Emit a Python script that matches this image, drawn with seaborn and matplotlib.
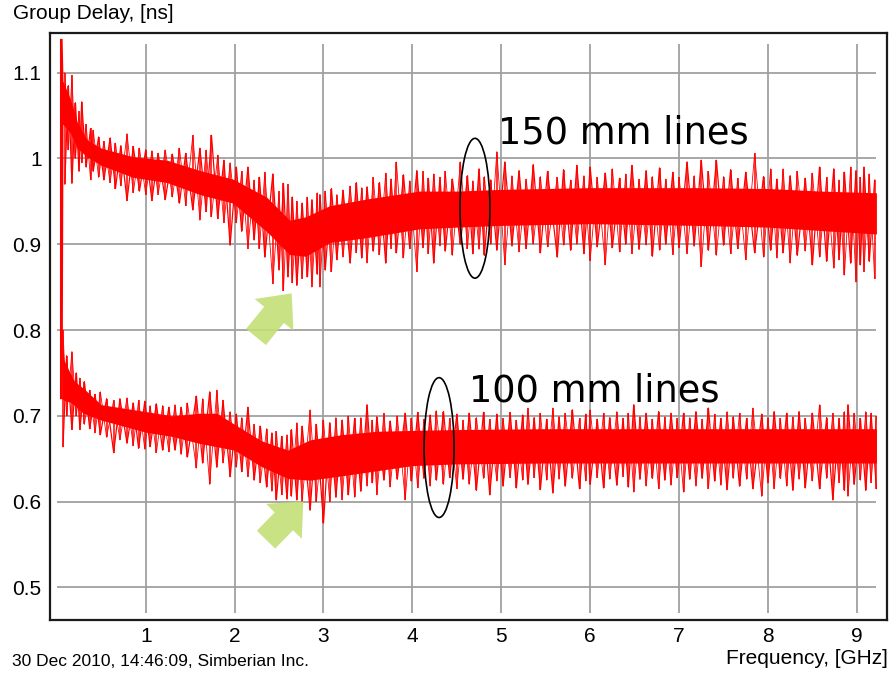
import numpy as np
import pandas as pd
import matplotlib
matplotlib.use("Agg")
import matplotlib.pyplot as plt
from matplotlib.patches import Ellipse
import seaborn as sns

# ---------------- data ----------------
x_ticks = [1, 2, 3, 4, 5, 6, 7, 8, 9]
y_ticks = [0.5, 0.6, 0.7, 0.8, 0.9, 1.0, 1.1]
y_tick_labels = ["0.5", "0.6", "0.7", "0.8", "0.9", "1", "1.1"]

# 150 mm line: solid core band of the noisy trace
f150 = [0.03, 0.06, 0.07, 0.15, 0.23, 0.34, 0.50, 0.86, 1.24, 1.61, 1.98, 2.36,
        2.62, 2.80, 3.07, 3.50, 4.08, 4.50, 5.00, 6.00, 7.20, 8.00, 8.60, 9.22]
lo150 = [0.72, 0.72, 1.04, 1.03, 1.012, 1.002, 0.992, 0.978, 0.972, 0.958, 0.948, 0.915,
         0.888, 0.886, 0.902, 0.908, 0.918, 0.92, 0.922, 0.924, 0.922, 0.92, 0.916, 0.912]
hi150 = [1.14, 1.14, 1.09, 1.07, 1.042, 1.022, 1.012, 1.002, 0.998, 0.986, 0.976, 0.955,
         0.928, 0.932, 0.945, 0.953, 0.962, 0.962, 0.964, 0.966, 0.966, 0.965, 0.962, 0.96]

# 150 mm line: noise spikes (frequency, lowest, highest)
spk150_f = [0.09, 0.13, 0.17, 0.21, 0.25, 0.28, 0.33, 0.38, 0.41, 0.47, 0.53, 0.60, 0.66, 0.72,
            0.79, 0.86, 0.93, 1.00, 1.07, 1.14, 1.22, 1.30, 1.38, 1.45, 1.53, 1.61, 1.68, 1.74,
            1.81, 1.88, 1.95, 2.02, 2.08, 2.15, 2.22, 2.28, 2.34, 2.43, 2.50, 2.55, 2.60, 2.65,
            2.70, 2.76, 2.82, 2.87, 2.93, 2.96, 3.02, 3.09, 3.15, 3.22, 3.30, 3.37, 3.43, 3.49,
            3.56, 3.63, 3.70, 3.76, 3.82, 3.90, 3.97, 4.05, 4.12, 4.18, 4.24, 4.31, 4.37, 4.45,
            4.54, 4.62, 4.68, 4.75, 4.81, 4.88, 4.95, 5.04, 5.12, 5.20, 5.28, 5.36, 5.44, 5.52,
            5.63, 5.70, 5.78, 5.85, 5.93, 6.00, 6.08, 6.17, 6.25, 6.33, 6.40, 6.47, 6.55, 6.63,
            6.70, 6.78, 6.85, 6.93, 7.00, 7.09, 7.17, 7.25, 7.33, 7.42, 7.50, 7.58, 7.66, 7.75,
            7.85, 7.95, 8.03, 8.10, 8.17, 8.25, 8.33, 8.42, 8.50, 8.58, 8.66, 8.74, 8.80, 8.86,
            8.93, 8.99, 9.04, 9.08, 9.14, 9.20]
spk150_lo = [0.97, 1.01, 0.971, 1.00, 0.985, 0.995, 0.99, 0.975, 0.985, 0.978, 0.975, 0.972, 0.965, 0.968,
             0.951, 0.96, 0.962, 0.958, 0.951, 0.958, 0.952, 0.955, 0.948, 0.945, 0.94, 0.928, 0.938, 0.932,
             0.93, 0.925, 0.899, 0.925, 0.915, 0.895, 0.905, 0.895, 0.885, 0.854, 0.87, 0.846, 0.862, 0.855,
             0.852, 0.86, 0.862, 0.85, 0.865, 0.85, 0.87, 0.868, 0.882, 0.885, 0.878, 0.89, 0.884, 0.878,
             0.892, 0.888, 0.878, 0.895, 0.89, 0.884, 0.895, 0.868, 0.896, 0.889, 0.878, 0.898, 0.892, 0.887,
             0.90, 0.895, 0.889, 0.894, 0.887, 0.90, 0.893, 0.876, 0.898, 0.891, 0.895, 0.90, 0.89, 0.897,
             0.885, 0.899, 0.893, 0.90, 0.889, 0.881, 0.897, 0.876, 0.896, 0.891, 0.90, 0.889, 0.894, 0.899,
             0.886, 0.893, 0.90, 0.888, 0.896, 0.889, 0.898, 0.874, 0.893, 0.887, 0.899, 0.889, 0.895, 0.882,
             0.89, 0.885, 0.893, 0.884, 0.89, 0.878, 0.887, 0.892, 0.876, 0.885, 0.88, 0.872, 0.882, 0.864,
             0.878, 0.856, 0.876, 0.868, 0.88, 0.86]
spk150_hi = [1.10, 1.085, 1.097, 1.065, 1.055, 1.066, 1.04, 1.035, 1.033, 1.025, 1.02, 1.024, 1.018, 1.015,
             1.029, 1.014, 1.012, 1.01, 1.009, 1.006, 1.01, 1.005, 1.012, 1.006, 1.027, 1.012, 1.01, 1.027,
             1.004, 0.998, 0.995, 0.99, 0.985, 0.99, 0.975, 0.978, 0.984, 0.982, 0.962, 0.971, 0.97, 0.955,
             0.95, 0.948, 0.955, 0.952, 0.96, 0.958, 0.962, 0.965, 0.958, 0.963, 0.968, 0.972, 0.966, 0.967,
             0.978, 0.972, 0.983, 0.976, 0.996, 0.981, 0.974, 0.986, 0.985, 0.977, 0.982, 0.978, 0.985, 0.976,
             0.996, 0.98, 0.974, 0.988, 0.979, 0.975, 1.008, 0.996, 0.98, 0.986, 0.976, 0.993, 0.979, 0.985,
             0.978, 0.987, 0.975, 0.992, 0.98, 0.99, 0.978, 0.983, 0.988, 0.977, 0.982, 0.992, 0.976, 0.986,
             0.979, 0.989, 0.976, 0.984, 0.978, 0.996, 0.98, 0.998, 0.985, 0.998, 0.979, 0.987, 0.977, 0.984,
             1.006, 0.979, 0.988, 0.976, 0.988, 0.98, 0.985, 0.977, 0.983, 0.99, 0.978, 0.988, 0.975, 0.984,
             0.99, 0.986, 0.978, 0.99, 0.982, 0.975]

# 100 mm line: solid core band
f100 = [0.06, 0.08, 0.15, 0.20, 0.30, 0.50, 0.75, 1.00, 1.30, 1.60, 1.80, 2.00,
        2.30, 2.60, 2.85, 3.20, 3.60, 4.00, 4.50, 5.50, 6.50, 7.50, 8.50, 9.22]
lo100 = [0.72, 0.718, 0.716, 0.712, 0.703, 0.695, 0.688, 0.681, 0.676, 0.668, 0.664, 0.66,
         0.641, 0.627, 0.625, 0.63, 0.636, 0.642, 0.644, 0.645, 0.645, 0.645, 0.645, 0.645]
hi100 = [0.80, 0.765, 0.75, 0.74, 0.732, 0.713, 0.709, 0.705, 0.70, 0.703, 0.703, 0.69,
         0.671, 0.66, 0.672, 0.678, 0.682, 0.683, 0.684, 0.685, 0.685, 0.685, 0.685, 0.685]

# 100 mm line: noise spikes
spk100_f = [0.07, 0.11, 0.17, 0.22, 0.26, 0.31, 0.37, 0.43, 0.49, 0.56, 0.64, 0.71, 0.79, 0.86,
            0.92, 0.99, 1.05, 1.12, 1.19, 1.26, 1.33, 1.40, 1.47, 1.57, 1.64, 1.72, 1.80, 1.87,
            1.95, 2.02, 2.08, 2.15, 2.22, 2.29, 2.36, 2.42, 2.47, 2.53, 2.59, 2.64, 2.70, 2.76,
            2.85, 2.92, 3.00, 3.07, 3.14, 3.21, 3.28, 3.35, 3.42, 3.49, 3.55, 3.60, 3.68, 3.75,
            3.83, 3.92, 3.99, 4.06, 4.13, 4.20, 4.27, 4.35, 4.42, 4.50, 4.57, 4.64, 4.72, 4.80,
            4.87, 4.95, 5.02, 5.10, 5.17, 5.24, 5.30, 5.37, 5.44, 5.51, 5.58, 5.65, 5.72, 5.80,
            5.88, 5.95, 6.00, 6.08, 6.15, 6.22, 6.30, 6.37, 6.43, 6.49, 6.56, 6.63, 6.70, 6.77,
            6.84, 6.91, 6.98, 7.05, 7.12, 7.19, 7.26, 7.33, 7.40, 7.47, 7.54, 7.61, 7.68, 7.76,
            7.83, 7.93, 8.00, 8.07, 8.14, 8.21, 8.28, 8.35, 8.42, 8.50, 8.58, 8.66, 8.73, 8.80,
            8.86, 8.90, 8.97, 9.04, 9.10, 9.16, 9.22]
spk100_lo = [0.664, 0.70, 0.684, 0.70, 0.684, 0.69, 0.685, 0.68, 0.678, 0.675, 0.657, 0.672, 0.668, 0.665,
             0.662, 0.661, 0.664, 0.657, 0.66, 0.658, 0.66, 0.655, 0.652, 0.639, 0.645, 0.62, 0.64, 0.645,
             0.629, 0.64, 0.635, 0.629, 0.625, 0.622, 0.617, 0.612, 0.602, 0.608, 0.603, 0.606, 0.602, 0.60,
             0.59, 0.60, 0.575, 0.60, 0.605, 0.602, 0.608, 0.605, 0.612, 0.618, 0.622, 0.608, 0.625, 0.617,
             0.626, 0.602, 0.624, 0.616, 0.627, 0.618, 0.625, 0.62, 0.628, 0.615, 0.626, 0.62, 0.613, 0.627,
             0.608, 0.624, 0.618, 0.628, 0.616, 0.625, 0.62, 0.628, 0.614, 0.625, 0.61, 0.626, 0.618, 0.627,
             0.615, 0.624, 0.62, 0.628, 0.616, 0.626, 0.619, 0.629, 0.617, 0.611, 0.626, 0.618, 0.627, 0.615,
             0.625, 0.619, 0.628, 0.611, 0.626, 0.618, 0.627, 0.615, 0.624, 0.619, 0.614, 0.627, 0.618, 0.626,
             0.615, 0.606, 0.622, 0.615, 0.627, 0.618, 0.613, 0.626, 0.616, 0.624, 0.615, 0.627, 0.602, 0.622,
             0.613, 0.606, 0.62, 0.625, 0.613, 0.622, 0.615]
spk100_hi = [0.80, 0.77, 0.775, 0.75, 0.744, 0.74, 0.73, 0.725, 0.728, 0.72, 0.718, 0.72, 0.721, 0.715,
             0.718, 0.717, 0.712, 0.714, 0.712, 0.71, 0.713, 0.71, 0.715, 0.723, 0.72, 0.728, 0.73, 0.718,
             0.705, 0.702, 0.698, 0.71, 0.69, 0.688, 0.685, 0.68, 0.682, 0.676, 0.678, 0.684, 0.692, 0.688,
             0.707, 0.69, 0.695, 0.692, 0.698, 0.695, 0.70, 0.697, 0.698, 0.713, 0.695, 0.699, 0.703, 0.694,
             0.70, 0.703, 0.697, 0.704, 0.696, 0.701, 0.706, 0.705, 0.697, 0.702, 0.695, 0.703, 0.698, 0.704,
             0.696, 0.702, 0.697, 0.704, 0.695, 0.701, 0.709, 0.698, 0.703, 0.696, 0.709, 0.699, 0.703, 0.707,
             0.697, 0.702, 0.707, 0.696, 0.703, 0.698, 0.705, 0.697, 0.703, 0.713, 0.699, 0.703, 0.696, 0.705,
             0.699, 0.703, 0.697, 0.703, 0.698, 0.705, 0.696, 0.709, 0.702, 0.697, 0.705, 0.699, 0.703, 0.697,
             0.709, 0.702, 0.698, 0.705, 0.697, 0.703, 0.699, 0.705, 0.697, 0.703, 0.713, 0.698, 0.703, 0.697,
             0.705, 0.713, 0.703, 0.697, 0.705, 0.703, 0.70]

# ---------------- styling ----------------
sns.set_theme(style="white")
plt.rcParams["font.family"] = ["Liberation Sans", "DejaVu Sans"]

RED = "#ff0000"
GRID = "#a0a0a0"
ARROW = "#c4df76"

fig = plt.figure(figsize=(8.94, 6.73), dpi=100)
ax = fig.add_axes([50 / 894, (673 - 620) / 673, 837 / 894, 587 / 673])
ax.set_facecolor("white")

# grid lines (limited extents like the reference)
ax.vlines(x_ticks, 0.47, 1.134, color=GRID, lw=1.3, zorder=1)
ax.hlines(y_ticks, 0.0, 9.22, color=GRID, lw=1.3, zorder=1)

# traces
for f, lo, hi, sf, slo, shi in [
    (f150, lo150, hi150, spk150_f, spk150_lo, spk150_hi),
    (f100, lo100, hi100, spk100_f, spk100_lo, spk100_hi),
]:
    core = pd.DataFrame({"f": f, "lo": lo, "hi": hi})
    ax.fill_between(core["f"], core["lo"], core["hi"], color=RED, lw=0, zorder=2)
    spikes = pd.DataFrame({"f": sf, "lo": slo, "hi": shi})
    ax.vlines(spikes["f"], spikes["lo"], spikes["hi"], color=RED, lw=1.1, zorder=2)
    # noisy trace: consecutive readings alternate between low and high excursions
    zig = pd.DataFrame({
        "f": spikes["f"],
        "v": np.where(np.arange(len(spikes)) % 2 == 0, spikes["lo"], spikes["hi"]),
    })
    sns.lineplot(data=zig, x="f", y="v", color=RED, lw=0.9, ax=ax, zorder=2,
                 estimator=None, sort=False)
    zig2 = pd.DataFrame({
        "f": spikes["f"],
        "v": np.where(np.arange(len(spikes)) % 2 == 0, spikes["hi"], spikes["lo"]),
    })
    sns.lineplot(data=zig2, x="f", y="v", color=RED, lw=0.6, ax=ax, zorder=2,
                 estimator=None, sort=False)

# annotations
ax.add_patch(Ellipse((4.704, 0.942), 0.337, 0.163, fill=False, ec="black", lw=1.2, zorder=4))
ax.add_patch(Ellipse((4.300, 0.663), 0.337, 0.163, fill=False, ec="black", lw=1.2, zorder=4))
ax.text(4.963, 1.018, "150 mm lines", fontsize=26.5, family="DejaVu Sans",
        va="baseline", ha="left", color="black", zorder=5)
ax.text(4.637, 0.7163, "100 mm lines", fontsize=26.5, family="DejaVu Sans",
        va="baseline", ha="left", color="black", zorder=5)

arrow_style = "simple,head_length=1.0,head_width=1.8,tail_width=0.92"
for tail, tip in [((2.241, 0.792), (2.642, 0.8428)), ((2.353, 0.5557), (2.773, 0.6002))]:
    ax.annotate("", xy=tip, xytext=tail, xycoords="data",
                arrowprops=dict(arrowstyle=arrow_style, mutation_scale=20,
                                color=ARROW, alpha=0.9, lw=0, shrinkA=0, shrinkB=0),
                zorder=6)

# axes
ax.set_xlim(-0.0765, 9.339)
ax.set_ylim(0.462, 1.1463)
ax.set_xticks(x_ticks)
ax.set_xticklabels([str(t) for t in x_ticks])
ax.set_yticks(y_ticks)
ax.set_yticklabels(y_tick_labels)
ax.set_xlabel("")
ax.set_ylabel("")
ax.tick_params(direction="inout", length=8, width=1.2, colors="black",
               labelsize=15, pad=2)
ax.tick_params(axis="x", pad=1)
for s in ax.spines.values():
    s.set_visible(True)
    s.set_color("#1a1a1a")
    s.set_linewidth(1.6)

fig.text(13 / 894, 1 - 4 / 673, "Group Delay, [ns]", fontsize=15, ha="left", va="top", color="black")
fig.text(888 / 894, 1 - 649 / 673, "Frequency, [GHz]", fontsize=15, ha="right", va="top", color="black")
fig.text(12 / 894, 1 - 654 / 673, "30 Dec 2010, 14:46:09, Simberian Inc.", fontsize=12.5,
         ha="left", va="top", color="black")

fig.savefig("out.png", dpi=100)
